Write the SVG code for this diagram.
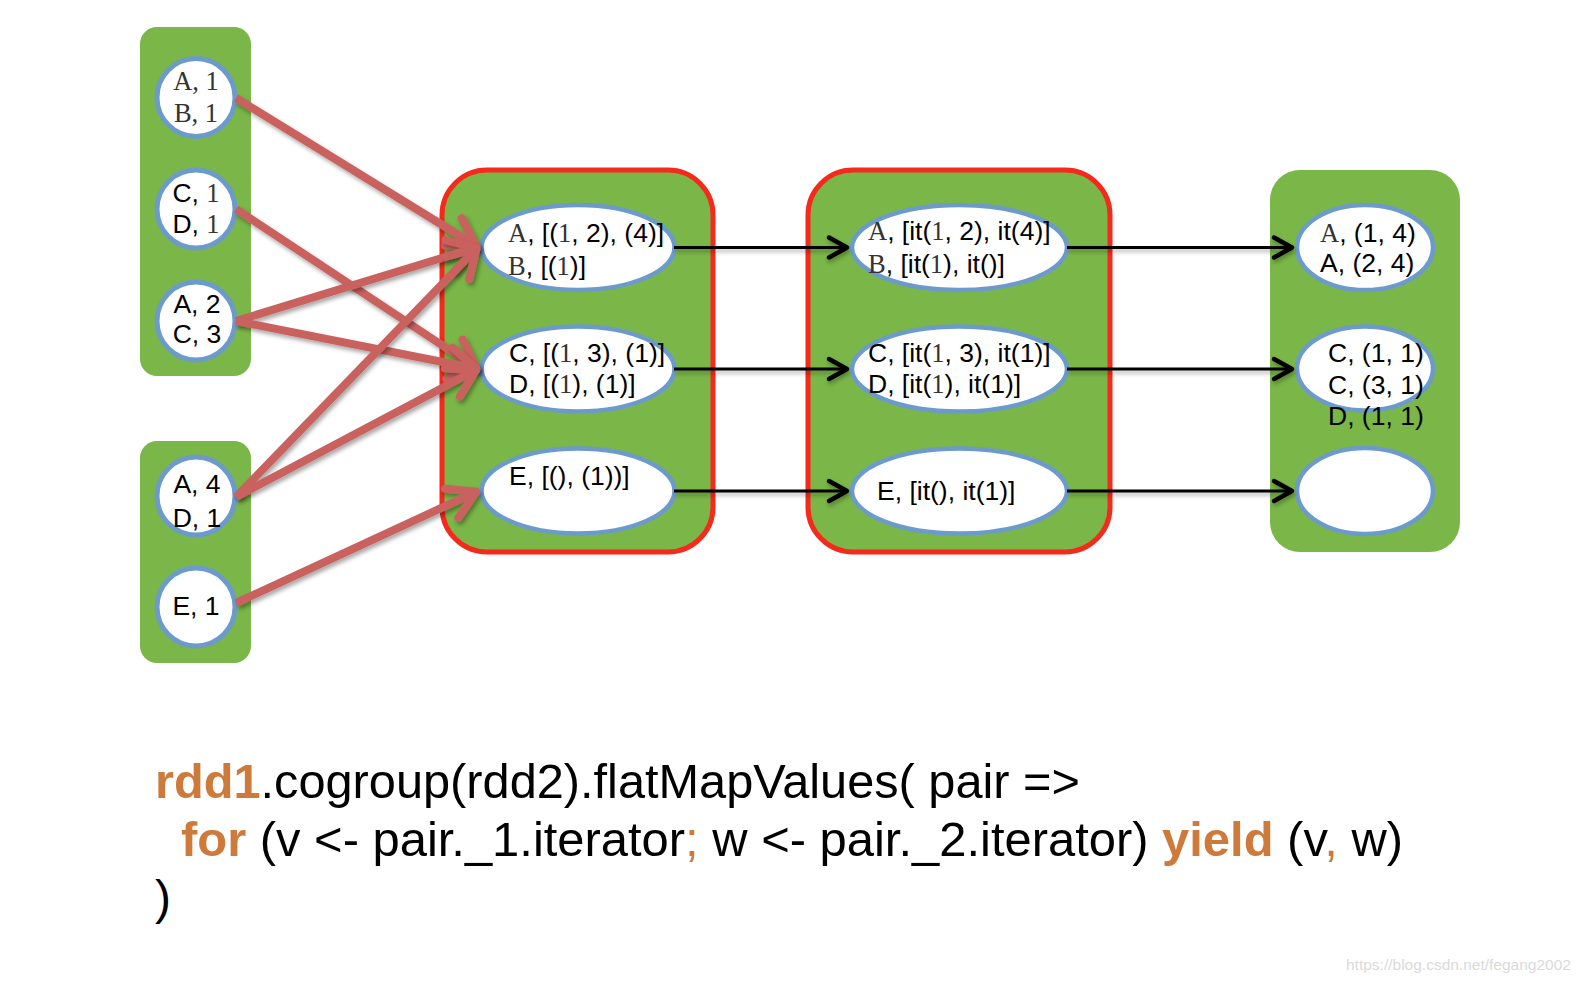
<svg xmlns="http://www.w3.org/2000/svg" width="1586" height="986" viewBox="0 0 1586 986">
<defs>
<style>
.grn{fill:#7AB648;}
.redbox{fill:#7AB648;stroke:#F5291C;stroke-width:5;}
.node{fill:#fff;stroke:#6C9BCB;stroke-width:5;}
.oval{fill:#fff;stroke:#6C9BCB;stroke-width:4.5;}
.t{font-family:"Liberation Sans",Arial,sans-serif;font-size:26.5px;fill:#000;}
.s{font-family:"Liberation Serif","Times New Roman",serif;fill:#333;}
.code{font-family:"Liberation Sans",Arial,sans-serif;font-size:48px;fill:#000;}
.kw{fill:#CD7A3B;font-weight:bold;}
.or{fill:#CD7A3B;}
.red{stroke:#C9625E;stroke-width:8;fill:none;marker-end:url(#rh);filter:url(#sh);}
.blk{stroke:#000;stroke-width:3;fill:none;marker-end:url(#bh);filter:url(#sh2);}
</style>
<filter id="sh" filterUnits="userSpaceOnUse" x="0" y="0" width="1586" height="986">
<feDropShadow dx="2" dy="3" stdDeviation="2" flood-color="#000" flood-opacity="0.35"/>
</filter>
<filter id="sh2" filterUnits="userSpaceOnUse" x="0" y="0" width="1586" height="986">
<feDropShadow dx="1" dy="3" stdDeviation="2" flood-color="#000" flood-opacity="0.3"/>
</filter>
<marker id="rh" markerUnits="userSpaceOnUse" markerWidth="60" markerHeight="60" viewBox="-45 -30 60 60" refX="0" refY="0" orient="auto" overflow="visible">
<path d="M-29,-16 L-2,0 L-29,16" fill="none" stroke="#C9625E" stroke-width="8" stroke-linecap="round" stroke-linejoin="round"/>
</marker>
<marker id="bh" markerUnits="userSpaceOnUse" markerWidth="40" markerHeight="40" viewBox="-30 -20 40 40" refX="0" refY="0" orient="auto" overflow="visible">
<path d="M-19,-10 L-1,0 L-19,10" fill="none" stroke="#000" stroke-width="4.5" stroke-linecap="round" stroke-linejoin="round"/>
</marker>
</defs>
<rect width="1586" height="986" fill="#fff"/>

<g id="rdd1">
<rect class="grn" x="140" y="27" width="111" height="349" rx="17"/>
<g id="n-a1b1"><circle class="node" cx="196" cy="97.5" r="39"/>
<text class="t s" x="196" y="90" text-anchor="middle">A, 1</text>
<text class="t s" x="196" y="122" text-anchor="middle">B, 1</text></g>
<g id="n-c1d1"><circle class="node" cx="196" cy="209" r="39"/>
<text class="t" x="196" y="202" text-anchor="middle">C, <tspan class="s">1</tspan></text>
<text class="t" x="196" y="233" text-anchor="middle">D, <tspan class="s">1</tspan></text></g>
<g id="n-a2c3"><circle class="node" cx="196" cy="321" r="39"/>
<text class="t" x="197" y="313" text-anchor="middle">A, 2</text>
<text class="t" x="197" y="343" text-anchor="middle">C, 3</text></g>
</g>

<g id="rdd2">
<rect class="grn" x="140" y="441" width="111" height="222" rx="17"/>
<g id="n-a4d1"><circle class="node" cx="196" cy="496" r="39"/>
<text class="t" x="197" y="493" text-anchor="middle">A, 4</text>
<text class="t" x="197" y="527" text-anchor="middle">D, 1</text></g>
<g id="n-e1"><circle class="node" cx="196" cy="607" r="39"/>
<text class="t" x="196" y="615" text-anchor="middle">E, 1</text></g>
</g>

<g id="cogrouped">
<rect class="redbox" x="442" y="170" width="271" height="382" rx="45"/>
<g id="m1-ab"><ellipse class="oval" cx="578" cy="247.5" rx="96.5" ry="42.5"/>
<text class="t" x="508" y="242"><tspan class="s">A</tspan>, [(<tspan class="s">1</tspan>, 2), (4)]</text>
<text class="t" x="508" y="275"><tspan class="s">B</tspan>, [(<tspan class="s">1</tspan>)]</text></g>
<g id="m1-cd"><ellipse class="oval" cx="578" cy="369" rx="96.5" ry="42.5"/>
<text class="t" x="509" y="362">C, [(<tspan class="s">1</tspan>, 3), (1)]</text>
<text class="t" x="509" y="393">D, [(<tspan class="s">1</tspan>), (1)]</text></g>
<g id="m1-e"><ellipse class="oval" cx="578" cy="491" rx="96.5" ry="42.5"/>
<text class="t" x="509" y="485">E, [(), (1))]</text></g>
</g>

<g id="iterators">
<rect class="redbox" x="808" y="170" width="302" height="382" rx="45"/>
<g id="m2-ab"><ellipse class="oval" cx="959.5" cy="247.5" rx="107.5" ry="42.5"/>
<text class="t" x="868" y="240"><tspan class="s">A</tspan>, [it(<tspan class="s">1</tspan>, 2), it(4)]</text>
<text class="t" x="868" y="273"><tspan class="s">B</tspan>, [it(<tspan class="s">1</tspan>), it()]</text></g>
<g id="m2-cd"><ellipse class="oval" cx="959.5" cy="369" rx="107.5" ry="42.5"/>
<text class="t" x="868" y="362">C, [it(<tspan class="s">1</tspan>, 3), it(1)]</text>
<text class="t" x="868" y="393">D, [it(<tspan class="s">1</tspan>), it(1)]</text></g>
<g id="m2-e"><ellipse class="oval" cx="959.5" cy="491" rx="107.5" ry="42.5"/>
<text class="t" x="877" y="500">E, [it(), it(1)]</text></g>
</g>

<g id="result">
<rect class="grn" x="1270" y="170" width="190" height="382" rx="30"/>
<g id="r-a"><ellipse class="oval" cx="1365" cy="247.5" rx="68" ry="42.5"/>
<text class="t" x="1320" y="242"><tspan class="s">A</tspan>, (1, 4)</text>
<text class="t" x="1320" y="272">A, (2, 4)</text></g>
<g id="r-cd"><ellipse class="oval" cx="1365" cy="368.5" rx="68" ry="42"/>
<text class="t" x="1328" y="362">C, (1, 1)</text>
<text class="t" x="1328" y="394">C, (3, 1)</text>
<text class="t" x="1328" y="425">D, (1, 1)</text></g>
<g id="r-e"><ellipse class="oval" cx="1365" cy="491" rx="68" ry="43"/></g>
</g>

<g id="connectors">
<line class="red" x1="236" y1="98" x2="478" y2="247"/>
<line class="red" x1="236" y1="209" x2="478" y2="369"/>
<line class="red" x1="236" y1="321" x2="478" y2="247"/>
<line class="red" x1="236" y1="321" x2="478" y2="369"/>
<line class="red" x1="236" y1="497" x2="478" y2="247"/>
<line class="red" x1="236" y1="497" x2="478" y2="369"/>
<line class="red" x1="236" y1="603" x2="478" y2="491"/>
<line class="blk" x1="674" y1="247.5" x2="848" y2="247.5"/>
<line class="blk" x1="674" y1="369" x2="848" y2="369"/>
<line class="blk" x1="674" y1="491" x2="848" y2="491"/>
<line class="blk" x1="1067" y1="247.5" x2="1293" y2="247.5"/>
<line class="blk" x1="1067" y1="369" x2="1293" y2="369"/>
<line class="blk" x1="1067" y1="491" x2="1293" y2="491"/>
</g>

<g id="code">
<text class="code" x="155" y="798" textLength="925" lengthAdjust="spacingAndGlyphs"><tspan class="kw">rdd1</tspan>.cogroup(rdd2).flatMapValues( pair =&gt;</text>
<text class="code" x="181" y="856" textLength="1222" lengthAdjust="spacingAndGlyphs"><tspan class="kw">for</tspan> (v &lt;- pair._1.iterator<tspan class="or">;</tspan> w &lt;- pair._2.iterator) <tspan class="kw">yield</tspan> (v<tspan class="or">,</tspan> w)</text>
<text class="code" x="155" y="914">)</text>
</g>

<text x="1346" y="970" font-family="Liberation Sans,Arial,sans-serif" font-size="15.5" fill="#DADADA">https://blog.csdn.net/fegang2002</text>
</svg>
